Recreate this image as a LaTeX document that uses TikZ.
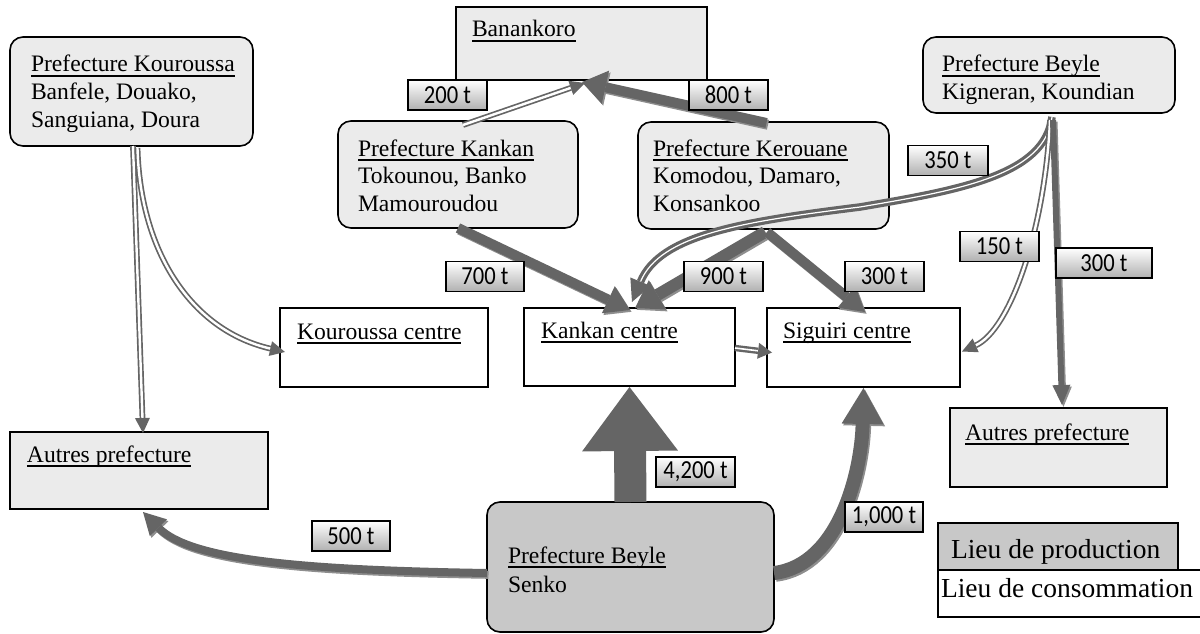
\documentclass[tikz,border=0pt]{standalone}
\usepackage{fontspec}
\setmainfont{Liberation Serif}
\newfontfamily\qtyfont{Carlito}
\usetikzlibrary{arrows.meta,calc}

\definecolor{flowdark}{HTML}{656565}
\definecolor{flowlight}{HTML}{8E8E8E}
\definecolor{paleface}{HTML}{EBEBEB}
\definecolor{prodface}{HTML}{C8C8C8}

% underline at a fixed depth below the baseline
\newcommand\uln[1]{\leavevmode\setbox0\hbox{#1}\rlap{\rule[-5pt]{\wd0}{1.6pt}}\box0}
% quantity text, slightly tall
\newcommand\tall[1]{\scalebox{1}[1.15]{#1}}
% a flow drawn twice: a lighter copy slightly offset, then the dark one
\newcommand\twoflow[2]{%
  \draw[#1,draw=flowlight,transform canvas={shift={(1.5pt,-1.8pt)}}] #2;
  \draw[#1,draw=flowdark] #2;}

\tikzset{
  every node/.style={inner sep=0pt, outer sep=0pt},
  pref/.style={draw=black, line width=1.6pt, rounded corners=13pt, fill=paleface},
  site/.style={draw=black, line width=1.4pt, fill=white},
  other/.style={draw=black, line width=1.4pt, fill=paleface},
  legendbox/.style={draw=black, line width=1.4pt},
  caption/.style={anchor=base west, font=\fontsize{23.6}{27.5}\selectfont},
  legendtext/.style={anchor=base west, font=\fontsize{27.5}{30}\selectfont},
  qty/.style={draw=black, line width=1.4pt, top color=white, bottom color=gray!62,
    font=\qtyfont\fontsize{22.6}{26}\selectfont, minimum height=30pt},
  hollow/.style={draw=flowdark, line width=1.7pt, double=white, double distance=2.4pt},
  ribbon/.style={draw=flowdark, line width=3.2pt, double=white, double distance=1.2pt},
  headsmall/.style={-{Triangle[length=15pt,width=15pt,line width=0pt]}},
}

\begin{document}
\begin{tikzpicture}[x=1pt,y=-1pt]
\useasboundingbox (0,0) rectangle (1200,634);

% ---- places of production and consumption
\node[pref, minimum width=243pt, minimum height=109pt] (kouP) at (131.5,91.5) {};
\node[other, minimum width=251pt, minimum height=73pt] (ban) at (581.5,43.5) {};
\node[pref, minimum width=240pt, minimum height=107pt] (kanP) at (458,174.5) {};
\node[pref, minimum width=251pt, minimum height=107pt] (kerP) at (763.5,175.5) {};
\node[pref, minimum width=252pt, minimum height=76pt] (beyP) at (1049,75) {};
\node[site, minimum width=208pt, minimum height=79pt] (kouC) at (384,347.5) {};
\node[site, minimum width=211pt, minimum height=78pt] (kanC) at (629.5,347) {};
\node[site, minimum width=193pt, minimum height=79pt] (sigC) at (863.5,347.5) {};
\node[other, minimum width=258pt, minimum height=77pt] (autL) at (139,470.5) {};
\node[other, minimum width=217pt, minimum height=79pt] (autR) at (1058.5,447.5) {};
\node[pref, fill=prodface, minimum width=287pt, minimum height=130pt] (senko) at (630.5,567) {};

% ---- legend
\node[legendbox, fill=white, minimum width=265pt, minimum height=47pt] (legC) at (1070.5,593.5) {};
\node[legendbox, fill=prodface, minimum width=240pt, minimum height=47pt] (legP) at (1058,546.5) {};
\node[legendtext] (legPt) at (951,558) {Lieu de production};
\node[legendtext] (legCt) at (941,597) {Lieu de consommation};

% ---- box texts
\node[caption] (kouPt) at (31,72) {\parbox[t]{220pt}{\uln{Prefecture Kouroussa}\\Banfele, Douako,\\Sanguiana, Doura}};
\node[caption] (bant) at (472,37) {\uln{Banankoro}};
\node[caption] (kanPt) at (358,156) {\parbox[t]{215pt}{\uln{Prefecture Kankan}\\Tokounou, Banko\\Mamouroudou}};
\node[caption] (kerPt) at (653,156) {\parbox[t]{225pt}{\uln{Prefecture Kerouane}\\Komodou, Damaro,\\Konsankoo}};
\node[caption] (beyPt) at (942,72) {\parbox[t]{225pt}{\uln{Prefecture Beyle}\\Kigneran, Koundian}};
\node[caption] (kouCt) at (297,339) {\uln{Kouroussa centre}};
\node[caption] (kanCt) at (541,338) {\uln{Kankan centre}};
\node[caption] (sigCt) at (783,338) {\uln{Siguiri centre}};
\node[caption] (autLt) at (27,462) {\uln{Autres prefecture}};
\node[caption] (autRt) at (965,440) {\uln{Autres prefecture}};
\node[caption] (senkot) at (508,563) {\parbox[t]{250pt}{\fontsize{23.6}{29}\selectfont\uln{Prefecture Beyle}\\Senko}};

% ---- flows from Prefecture Kouroussa
\draw[hollow, headsmall] ($(kouP.south)+(1.5,0)$) -- ($(autL.north)+(4,1)$);
\draw[hollow, headsmall] ($(kouP.south)+(6,2)$)
  .. controls ($(kouP.south)+(8.5,104)$) and ($(kouC.west)+(-90,-17.5)$) .. ($(kouC.west)+(5,4.5)$);

% ---- flows towards Banankoro
\draw[hollow, headsmall] ($(kanP.north)+(5,4)$) -- ($(ban.south)+(3.5,3)$);
\twoflow{line width=10pt, -{Triangle[length=24pt,width=34pt,line width=0pt]}}
  {($(kerP.north)+(3,1)$) -- ($(ban.south)+(0.5,2)$)}

% ---- flows towards Kankan centre and Siguiri centre
\twoflow{line width=10pt, -{Triangle[length=24pt,width=30pt,line width=0pt]}}
  {(kanP.south) -- ($(kanC.north)+(0.5,2)$)}
\twoflow{line width=12pt, -{Triangle[length=26pt,width=34pt,line width=0pt]}}
  {($(kerP.south)+(1.5,3)$) -- ($(kanC.north)+(5.5,0)$)}
\twoflow{line width=10pt, -{Triangle[length=24pt,width=28pt,line width=0pt]}}
  {($(kerP.south)+(3.5,3)$) -- ($(sigC.north)+(1.5,4)$)}
\draw[ribbon, -{Triangle[length=22pt,width=22pt,line width=0pt]}]
  ($(beyP.south)+(3,4)$) .. controls (1045,175) and (960,190) .. (860,207)
  .. controls (740,222) and (660,235) .. ($(kanC.north)+(2.5,-6)$);
\draw[hollow, headsmall] ($(beyP.south)+(1,7)$)
  .. controls (1045,230) and (1010,330) .. ($(sigC.east)+(2,4)$);
\twoflow{line width=6pt, -{Triangle[length=20pt,width=18pt,line width=0pt]}}
  {($(beyP.south)+(4,7)$) -- ($(autR.north)+(3.5,-3)$)}
\draw[draw=flowdark, line width=2.4pt, double=white, double distance=1.6pt,
  -{Triangle[length=14pt,width=16pt,line width=0pt]}]
  ($(kanC.east)+(0,1)$) -- ($(sigC.west)+(5,5)$);

% ---- flows from Senko
\draw[draw=flowdark, line width=32pt, -{Triangle[length=64pt,width=96pt,line width=0pt]}]
  (senko.north) -- ($(kanC.south)+(0,1)$);
\twoflow{line width=14pt, -{Triangle[length=36pt,width=42pt,line width=0pt]}}
  {($(senko.east)+(0,6)$) .. controls ($(senko.east)+(66,-2)$) and ($(sigC.south)+(-2,83)$) .. ($(sigC.south)+(0,1)$)}
\twoflow{line width=8pt, -{Triangle[length=22pt,width=24pt,line width=0pt]}}
  {($(senko.west)+(0,6)$) .. controls (300,570) and (190,560) .. ($(autL.south)+(4,3)$)}

% ---- quantities
\node[qty, minimum width=79pt] (q200) at (447.5,95) {\tall{200 t}};
\node[qty, minimum width=79pt] (q800) at (728.5,95) {\tall{800 t}};
\node[qty, minimum width=80pt] (q350) at (948,160.5) {\tall{350 t}};
\node[qty, minimum width=79pt] (q150) at (999.5,246.5) {\tall{150 t}};
\node[qty, minimum width=96pt] (q300r) at (1104,263) {\tall{300 t}};
\node[qty, minimum width=78pt] (q700) at (485,276.5) {\tall{700 t}};
\node[qty, minimum width=79pt] (q900) at (723.5,276.5) {\tall{900 t}};
\node[qty, minimum width=79pt] (q300m) at (884.5,276.5) {\tall{300 t}};
\node[qty, minimum width=79pt] (q4200) at (695.5,472) {\tall{4,200 t}};
\node[qty, minimum width=78pt] (q1000) at (884,517) {\tall{1,000 t}};
\node[qty, minimum width=78pt] (q500) at (351,536) {\tall{500 t}};
\end{tikzpicture}
\end{document}
